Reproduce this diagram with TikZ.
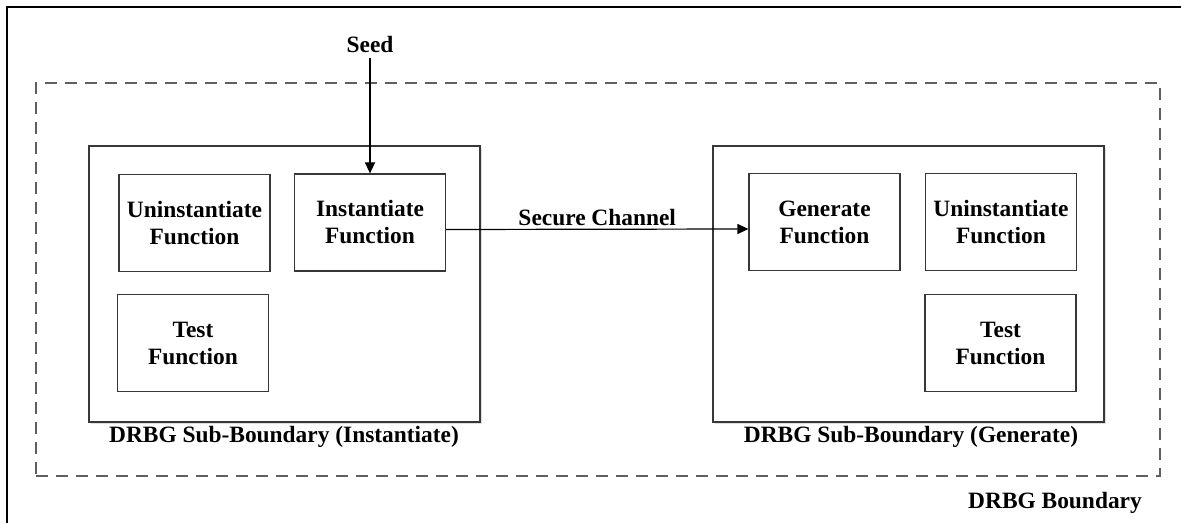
\documentclass[tikz,border=0pt]{standalone}
\usepackage{fontspec}
\setmainfont{Liberation Serif}
\usepackage{tikz}
\usetikzlibrary{arrows.meta}
\usetikzlibrary{shadows}

\begin{document}
\begin{tikzpicture}[x=0.5pt, y=-0.5pt, thick, font=\fontsize{11.7}{13.5}\selectfont\bfseries]

  % Define Colors
  \definecolor{boxgray}{RGB}{55,55,55}
  \definecolor{dashgray}{RGB}{95,95,95}

  % Node styles
  \tikzstyle{fbox}=[rectangle, draw=boxgray, line width=0.6pt, minimum width=75.5pt, minimum height=48.5pt, align=center, inner sep=0pt]
  \tikzstyle{subbox}=[rectangle, draw=boxgray, line width=0.9pt, fill=white, minimum width=195.5pt, minimum height=138pt, drop shadow={shadow xshift=0.8pt, shadow yshift=-0.8pt, opacity=0.25}]
  \tikzstyle{bound}=[rectangle, draw=dashgray, line width=0.8pt, dash pattern=on 6pt off 4pt, minimum width=562pt, minimum height=196.5pt]
  \tikzstyle{lbl}=[inner sep=2pt]

  \tikzstyle{chan}=[line width=0.6pt, -{Triangle[length=5.5pt,width=5pt]}]

  \useasboundingbox (0,0) rectangle (1181,523);

  % Frame
  \draw[line width=1.2pt] (7,523) -- (7,7) -- (1181,7);

  % Boundaries
  \node[bound] (drbg) at (598,279.5) {};
  \node[subbox] (sub_i) at (284.5,284) {};
  \node[subbox] (sub_g) at (908.5,284) {};

  % Nodes
  \node[fbox] (uninst_i) at (194.5,223) {Uninstantiate\\Function};
  \node[fbox] (inst) at (370,222.5) {Instantiate\\Function};
  \node[fbox] (test_i) at (193,343) {Test\\Function};

  \node[fbox] (gen) at (824.5,222) {Generate\\Function};
  \node[fbox] (uninst_g) at (1001,222) {Uninstantiate\\Function};
  \node[fbox] (test_g) at (1000.5,343) {Test\\Function};

  \node[lbl] (seed) at (370,45) {Seed};

  % Links
  \draw[chan] (seed) -- (inst);
  \draw[chan] ([yshift=-3.5pt]inst.east) -- node[lbl, above, inner sep=1.5pt] (chan_lbl) {Secure Channel} ([yshift=-3.5pt]gen.west);

  % Labels
  \node[lbl] (lbl_i) at (284,437) {DRBG Sub-Boundary (Instantiate)};
  \node[lbl] (lbl_g) at (911,437) {DRBG Sub-Boundary (Generate)};
  \node[lbl] (lbl_drbg) at (1055,503) {DRBG Boundary};

\end{tikzpicture}
\end{document}
